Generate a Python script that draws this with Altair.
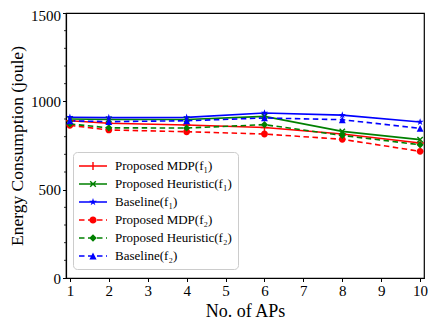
import math
import altair as alt
import pandas as pd

# ---------------- data ----------------
aps = [1, 2, 4, 6, 8, 10]
mdp_f1 = [890, 876, 866, 852, 815, 764]
heur_f1 = [900, 897, 897, 915, 830, 783]
base_f1 = [910, 908, 909, 934, 922, 883]
mdp_f2 = [864, 838, 828, 815, 785, 717]
heur_f2 = [872, 850, 849, 868, 807, 754]
base_f2 = [890, 885, 890, 906, 896, 847]

series_names = [
    "Proposed MDP(f\u2081)",
    "Proposed Heuristic(f\u2081)",
    "Baseline(f\u2081)",
    "Proposed MDP(f\u2082)",
    "Proposed Heuristic(f\u2082)",
    "Baseline(f\u2082)",
]
series_values = [mdp_f1, heur_f1, base_f1, mdp_f2, heur_f2, base_f2]
series_colors = ["#ff0000", "#008000", "#0000ff", "#ff0000", "#008000", "#0000ff"]
series_markers = ["plus", "x", "star", "circle", "diamond", "triangle"]
series_dashed = [False, False, False, True, True, True]

y_ticks = [0, 500, 1000, 1500]
y_minor = [v for v in range(100, 1500, 100) if v % 500 != 0]
x_ticks = list(range(1, 11))

rows = []
for name, vals, dashed in zip(series_names, series_values, series_dashed):
    for a, v in zip(aps, vals):
        rows.append({"aps": a, "energy": v, "series": name, "dashed": dashed})
df = pd.DataFrame(rows)

# ---------------- marker geometry ----------------
def f(v):
    return f"{v:.3f}"

def rect(x0, y0, x1, y1):
    return f"M{f(x0)},{f(y0)}H{f(x1)}V{f(y1)}H{f(x0)}Z"

def poly(pts):
    return "M" + "L".join(f"{f(x)},{f(y)}" for x, y in pts) + "Z"

def marker(kind, r, t):
    if kind == "plus":
        return rect(-r, -t, r, t) + rect(-t, -r, t, r)
    if kind == "x":
        out = ""
        for ang in (45, -45):
            c, s = math.cos(math.radians(ang)), math.sin(math.radians(ang))
            pts = [(-r, -t), (r, -t), (r, t), (-r, t)]
            out += poly([(x * c - y * s, x * s + y * c) for x, y in pts])
        return out
    if kind == "star":
        pts = []
        for i in range(10):
            rr = r if i % 2 == 0 else r * 0.382
            a = math.radians(-90 + 36 * i)
            pts.append((rr * math.cos(a), rr * math.sin(a)))
        return poly(pts)
    if kind == "circle":
        rr = r * 0.9
        return f"M{f(rr)},0A{f(rr)},{f(rr)},0,1,1,{f(-rr)},0A{f(rr)},{f(rr)},0,1,1,{f(rr)},0Z"
    if kind == "diamond":
        rr = r * 0.95
        return poly([(0, -rr), (rr, 0), (0, rr), (-rr, 0)])
    if kind == "triangle":
        rr = r * 0.9
        return poly([(0, -rr), (rr, rr), (-rr, rr)])
    return ""

# chart markers: box 8px -> 4 px per unit
PT_SIZE = 64
pt_scale = 4.0
pt_paths = [marker(k, 3.8 / pt_scale, 0.7 / pt_scale) for k in series_markers]

# legend symbols: line handle + marker
LEG_SIZE = 16 * 16
leg_scale = 8.0  # px per unit
half_len = 14.0

def legend_path(kind, dashed):
    lt = 0.8 / leg_scale
    if dashed:
        segs, pos = [], -half_len
        while pos < half_len:
            end = min(pos + 5.5, half_len)
            segs.append(rect(pos / leg_scale, -lt, end / leg_scale, lt))
            pos = end + 3.5
        line = "".join(segs)
    else:
        line = rect(-half_len / leg_scale, -lt, half_len / leg_scale, lt)
    return line + marker(kind, 4.0 / leg_scale, 0.7 / leg_scale)

leg_paths = [legend_path(k, d) for k, d in zip(series_markers, series_dashed)]

# ---------------- chart ----------------
FONT = "Liberation Serif"
x_enc = alt.X(
    "aps:Q",
    scale=alt.Scale(domain=[0.9, 10.1], nice=False, zero=False),
    axis=alt.Axis(values=x_ticks, format="d", title="No. of APs"),
)
y_enc = alt.Y(
    "energy:Q",
    scale=alt.Scale(domain=[0, 1500], nice=False),
    axis=alt.Axis(
        values=y_ticks, format="d", title="Energy Consumption (joule)",
        labelOffset=alt.condition("datum.value == 1500", alt.value(2.6), alt.value(0)),
    ),
)
color_scale = alt.Scale(domain=series_names, range=series_colors)

base = alt.Chart(df)

# invisible layer that only carries the legend (fill + custom line/marker symbols)
legend_layer = base.mark_point(
    filled=True, size=LEG_SIZE, fillOpacity=0, strokeOpacity=0, strokeWidth=0
).encode(
    x=x_enc, y=y_enc,
    fill=alt.Fill("series:N", scale=alt.Scale(domain=series_names, range=series_colors),
                  legend=alt.Legend(
        orient="none", legendX=7, legendY=139, title=None,
        fillColor="rgba(255,255,255,0.85)", strokeColor="#cccccc",
        cornerRadius=4, padding=6,
        labelFont=FONT, labelFontSize=13, labelColor="black",
        symbolSize=LEG_SIZE, symbolStrokeWidth=0, symbolOpacity=1,
        symbolFillColor="black",
        rowPadding=3, labelOffset=14, symbolOffset=6,
    )),
    shape=alt.Shape("series:N", scale=alt.Scale(domain=series_names, range=leg_paths)),
)

lines_solid = base.transform_filter("!datum.dashed").mark_line(strokeWidth=1.6).encode(
    x=x_enc, y=y_enc,
    color=alt.Color("series:N", scale=color_scale, legend=None),
)
lines_dashed = base.transform_filter("datum.dashed").mark_line(
    strokeWidth=1.6, strokeDash=[5.5, 3.5]
).encode(
    x=x_enc, y=y_enc,
    color=alt.Color("series:N", scale=color_scale, legend=None),
)

point_layers = []
for name, p in zip(series_names, pt_paths):
    point_layers.append(
        base.transform_filter(alt.datum.series == name)
        .mark_point(shape=p, size=PT_SIZE, filled=True, opacity=1, strokeWidth=0)
        .encode(x=x_enc, y=y_enc,
                color=alt.Color("series:N", scale=color_scale, legend=None))
    )

minor = alt.Chart(pd.DataFrame({"energy": y_minor})).mark_rule(
    color="black", strokeWidth=0.8
).encode(
    y=y_enc,
    x=alt.value(-2), x2=alt.value(0),
)

chart = alt.layer(
    legend_layer, minor, lines_solid, lines_dashed, *point_layers
).properties(
    width=358, height=265,
    autosize=alt.AutoSizeParams(type="none"),
    padding={"left": 58, "top": 5, "right": 4, "bottom": 43},
).configure_view(
    stroke="black", strokeWidth=1.2
).configure_axis(
    grid=False,
    labelFont=FONT, titleFont=FONT,
    labelFontSize=15,
    labelColor="black", titleColor="black",
    titleFontWeight="normal",
    domainColor="black", tickColor="black",
    tickSize=3.5, domainWidth=1.2, tickWidth=1,
).configure_axisX(
    labelPadding=2, titlePadding=4, titleFontSize=18,
).configure_axisY(
    labelPadding=2, titlePadding=4, titleFontSize=17.5,
)

chart.save("out.html", embed_options={"renderer": "svg", "actions": False})
